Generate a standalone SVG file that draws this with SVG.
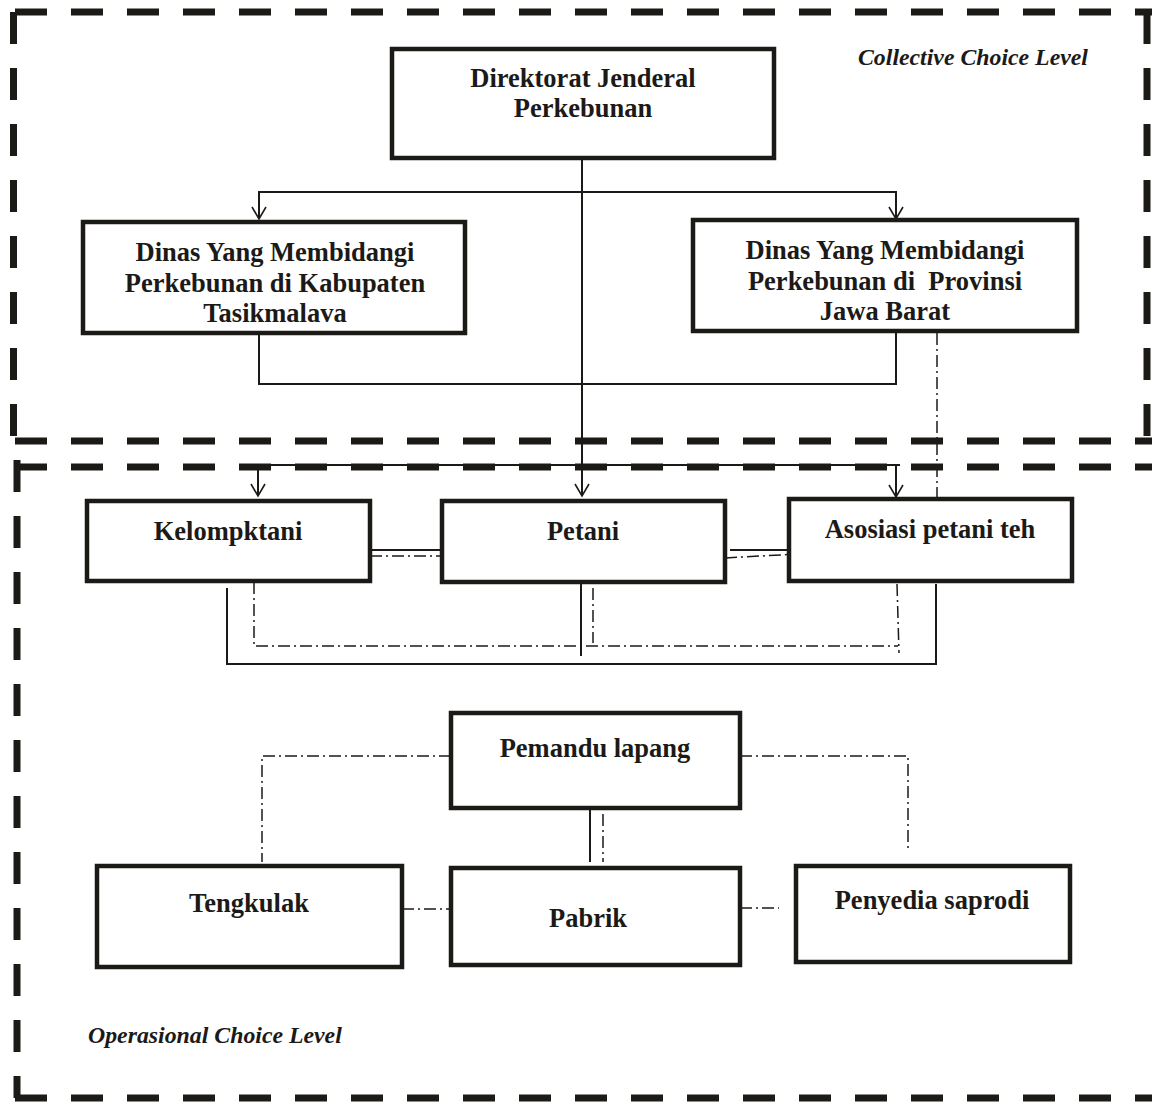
<svg xmlns="http://www.w3.org/2000/svg" width="1152" height="1102" viewBox="0 0 1152 1102">
<defs>
<style>
.bd{fill:none;stroke:#1c1a17;stroke-width:7;stroke-dasharray:32 24}
.nd{fill:#fff;stroke:#1c1a17;stroke-width:4.5}
.t{font-family:"Liberation Serif","Times New Roman",serif;font-weight:bold;font-size:26.5px;fill:#1c1a17;text-anchor:middle}
.lv{font-family:"Liberation Serif","Times New Roman",serif;font-weight:bold;font-style:italic;font-size:23.8px;fill:#1c1a17}
.s{fill:none;stroke:#1c1a17;stroke-width:2}
.dd{fill:none;stroke:#1c1a17;stroke-width:1.5;stroke-dasharray:12 4 2 4}
</style>
<marker id="ah" markerUnits="userSpaceOnUse" markerWidth="16" markerHeight="18" viewBox="-14 -9 16 18" refX="0" refY="0" orient="auto">
<path d="M-12,-7 L0,0 L-12,7" fill="none" stroke="#1c1a17" stroke-width="1.6"/>
</marker>
</defs>
<rect width="1152" height="1102" fill="#fff"/>
<g id="borders">
<path class="bd" d="M15,12 H1160"/>
<path class="bd" d="M13.5,12 V441"/>
<path class="bd" d="M1147,12 V441"/>
<path class="bd" d="M15,441 H1160"/>
<path class="bd" d="M15,467 H1160"/>
<path class="bd" d="M17,460 V1098"/>
<path class="bd" d="M15,1098 H1160"/>
</g>
<g id="labels">
<text class="lv" x="858" y="65">Collective Choice Level</text>
<text class="lv" x="88" y="1043">Operasional Choice Level</text>
</g>
<g id="connectors">
<path class="s" d="M582,153 V496" marker-end="url(#ah)"/>
<path class="s" d="M259,192 H896"/>
<path class="s" d="M259,191 V219" marker-end="url(#ah)"/>
<path class="s" d="M896,191 V219" marker-end="url(#ah)"/>
<path class="s" d="M259,322 V384 H896 V332"/>
<path class="s" d="M258,465 H900"/>
<path class="s" d="M258,464 V496" marker-end="url(#ah)"/>
<path class="s" d="M896,464 V497" marker-end="url(#ah)"/>
<path class="dd" d="M937,333 V499"/>
<path class="s" d="M370,550 H442"/>
<path class="dd" d="M370,556 H442"/>
<path class="s" d="M730,550 H789"/>
<path class="dd" d="M725,558 L797,554"/>
<path class="s" d="M227,588 V664 H936 V584"/>
<path class="s" d="M581,582 V656"/>
<path class="dd" d="M254,582 V646 H898"/>
<path class="dd" d="M593,588 V643"/>
<path class="dd" d="M897,584 L899,653"/>
<path class="dd" d="M451,756 H262 V862"/>
<path class="dd" d="M740,756 H908 V848"/>
<path class="s" d="M590,810 V862"/>
<path class="dd" d="M603,814 V862"/>
<path class="dd" d="M402,909 H451"/>
<path class="dd" d="M740,908 H779"/>
</g>
<g id="n-direktorat">
<rect class="nd" x="392" y="49" width="382" height="109"/>
<text class="t" x="583" y="87">Direktorat Jenderal</text>
<text class="t" x="583" y="117">Perkebunan</text>
</g>
<g id="n-kabupaten">
<rect class="nd" x="83" y="222" width="382" height="111"/>
<text class="t" x="275" y="261">Dinas Yang Membidangi</text>
<text class="t" x="275" y="292">Perkebunan di Kabupaten</text>
<text class="t" x="275" y="322">Tasikmalava</text>
</g>
<g id="n-provinsi">
<rect class="nd" x="693" y="220" width="384" height="111"/>
<text class="t" x="885" y="259">Dinas Yang Membidangi</text>
<text class="t" x="885" y="290" xml:space="preserve">Perkebunan di  Provinsi</text>
<text class="t" x="885" y="320">Jawa Barat</text>
</g>
<g id="n-kelompktani">
<rect class="nd" x="87" y="501" width="283" height="80"/>
<text class="t" x="228" y="540">Kelompktani</text>
</g>
<g id="n-petani">
<rect class="nd" x="442" y="501" width="283" height="81"/>
<text class="t" x="583" y="540">Petani</text>
</g>
<g id="n-asosiasi">
<rect class="nd" x="789" y="499" width="283" height="82"/>
<text class="t" x="930" y="538">Asosiasi petani teh</text>
</g>
<g id="n-pemandu">
<rect class="nd" x="451" y="713" width="289" height="95"/>
<text class="t" x="595" y="757">Pemandu lapang</text>
</g>
<g id="n-tengkulak">
<rect class="nd" x="97" y="866" width="305" height="101"/>
<text class="t" x="249" y="912">Tengkulak</text>
</g>
<g id="n-pabrik">
<rect class="nd" x="451" y="868" width="289" height="97"/>
<text class="t" x="588" y="927">Pabrik</text>
</g>
<g id="n-penyedia">
<rect class="nd" x="796" y="866" width="274" height="96"/>
<text class="t" x="932" y="909">Penyedia saprodi</text>
</g>
</svg>
